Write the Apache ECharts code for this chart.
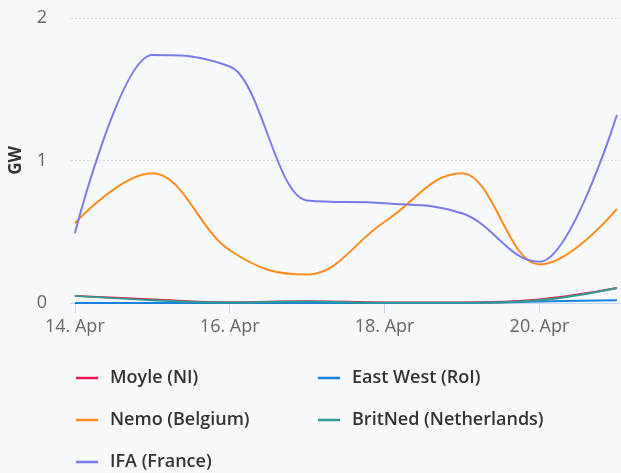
<!DOCTYPE html>
<html>
<head>
<meta charset="utf-8">
<script src="https://cdn.jsdelivr.net/npm/echarts@6/dist/echarts.min.js"></script>
<style>
    html, body { margin: 0; padding: 0; background: #f7f8fa; }
    #chart { width: 621px; height: 473px; }
</style>
</head>
<body>
<div id="chart"></div>
<script>
    // days of April, one point per day
    let days = [14, 15, 16, 17, 18, 19, 20, 21]
    let tickDays = [14, 16, 18, 20]

    let moyle = [0.05, 0.025, 0.005, 0.012, 0.004, 0.004, 0.025, 0.105]
    let eastWest = [0.0, 0.0, 0.0, 0.0, 0.0, 0.0, 0.01, 0.02]
    let nemo = [0.56, 0.91, 0.37, 0.2, 0.57, 0.91, 0.27, 0.66]
    let britNed = [0.05, 0.02, 0.003, 0.01, 0.002, 0.002, 0.02, 0.105]
    let ifa = [0.49, 1.74, 1.66, 0.72, 0.7, 0.63, 0.29, 1.32]

    let names = ['Moyle (NI)', 'East West (RoI)', 'Nemo (Belgium)', 'BritNed (Netherlands)', 'IFA (France)']
    let colors = ['#e8174f', '#1582e0', '#ff8c1a', '#2f9c94', '#7b7be8']
    let values = [moyle, eastWest, nemo, britNed, ifa]

    let font = '"Open Sans", "Noto Sans", sans-serif'

    // spline path through the pixel points (smoothing 1.5, no false extremes)
    function splinePath(pts) {
        let smoothing = 1.5
        let denom = smoothing + 1
        let d = 'M' + pts[0][0] + ' ' + pts[0][1]
        let prevRight = null
        for (let i = 1; i < pts.length; i++) {
            let [x, y] = pts[i]
            let leftX = x, leftY = y, rightX = null, rightY = null
            if (i < pts.length - 1) {
                let [lx, ly] = pts[i - 1]
                let [nx, ny] = pts[i + 1]
                leftX = (smoothing * x + lx) / denom
                leftY = (smoothing * y + ly) / denom
                rightX = (smoothing * x + nx) / denom
                rightY = (smoothing * y + ny) / denom
                let corr = 0
                if (rightX !== leftX) {
                    corr = ((rightY - leftY) * (rightX - x)) / (rightX - leftX) + y - rightY
                }
                leftY += corr
                rightY += corr
                if (leftY > ly && leftY > y) {
                    leftY = Math.max(ly, y)
                    rightY = 2 * y - leftY
                } else if (leftY < ly && leftY < y) {
                    leftY = Math.min(ly, y)
                    rightY = 2 * y - leftY
                }
                if (rightY > ny && rightY > y) {
                    rightY = Math.max(ny, y)
                    leftY = 2 * y - rightY
                } else if (rightY < ny && rightY < y) {
                    rightY = Math.min(ny, y)
                    leftY = 2 * y - rightY
                }
            }
            let c0 = prevRight || pts[i - 1]
            d += 'C' + c0[0] + ' ' + c0[1] + ' ' + leftX + ' ' + leftY + ' ' + x + ' ' + y
            prevRight = rightX === null ? null : [rightX, rightY]
        }
        return d
    }

    // legend laid out in two columns, one component per item
    let legendPos = [[71, 364], [313, 364], [71, 406], [313, 406], [71, 448]]
    let legends = names.map((n, i) => ({
        data: [{name: n, icon: 'rect', itemStyle: {color: colors[i]}}],
        left: legendPos[i][0],
        top: legendPos[i][1],
        itemWidth: 22,
        itemHeight: 2.5,
        itemGap: 0,
        textStyle: {
            fontFamily: font,
            fontSize: 18,
            fontWeight: 600,
            color: '#333',
            padding: [0, 0, 0, 7]
        }
    }))

    let series = names.map((n, i) => ({
        name: n,
        type: 'custom',
        itemStyle: {color: colors[i]},
        data: days.map((d, j) => [d, values[i][j]]),
        renderItem: (params, api) => {
            if (params.dataIndex !== 0) return null
            let pts = days.map((d, j) => api.coord([d, values[i][j]]))
            return {
                type: 'path',
                shape: {pathData: splinePath(pts)},
                style: {fill: null, stroke: colors[i], lineWidth: 2}
            }
        }
    }))

    let option = {
        backgroundColor: '#f7f8fa',
        animation: false,
        legend: legends,
        grid: {
            left: 70,
            right: 1,
            top: 18,
            bottom: 170
        },
        xAxis: {
            type: 'value',
            min: 13.95,
            max: 21.04,
            axisLine: {lineStyle: {color: '#ccd6eb'}},
            axisTick: {
                customValues: tickDays,
                length: 10,
                lineStyle: {color: '#ccd6eb'}
            },
            axisLabel: {
                customValues: tickDays,
                formatter: v => v + '. Apr',
                fontFamily: font,
                fontSize: 18,
                color: '#666',
                margin: 15
            },
            splitLine: {show: false}
        },
        yAxis: {
            type: 'value',
            min: 0,
            max: 2,
            interval: 1,
            name: 'GW',
            nameLocation: 'middle',
            nameGap: 46,
            nameTextStyle: {
                fontFamily: font,
                fontSize: 17,
                fontWeight: 'bold',
                color: '#333'
            },
            axisLine: {show: false},
            axisTick: {show: false},
            axisLabel: {
                fontFamily: font,
                fontSize: 18,
                color: '#666',
                margin: 24
            },
            splitLine: {
                lineStyle: {color: '#d5e0e0', type: [2, 2]}
            }
        },
        series: series
    }

    let myChart = echarts.init(document.getElementById('chart'))
    myChart.setOption(option)
</script>
</body>
</html>
